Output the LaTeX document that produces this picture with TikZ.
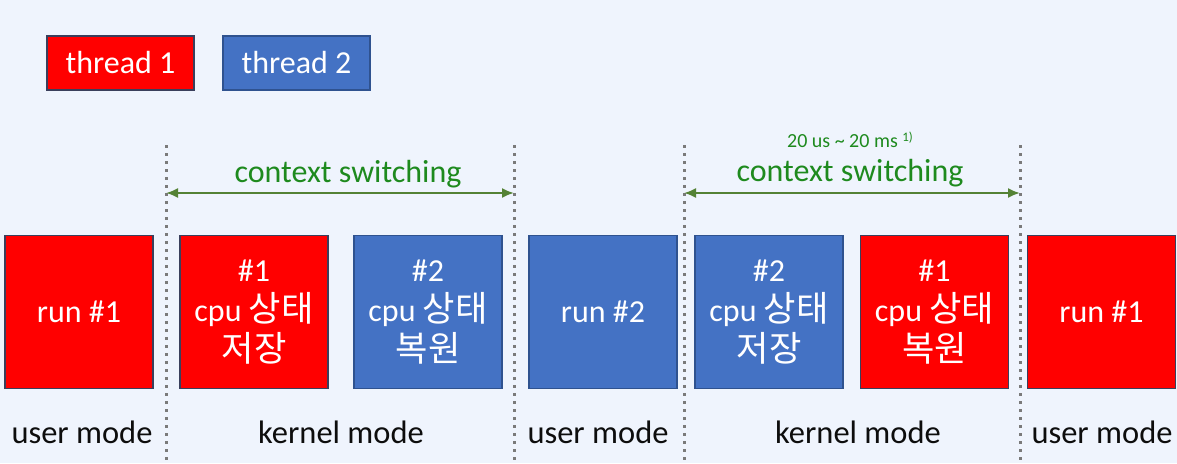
\documentclass[tikz,border=0pt]{standalone}
\usepackage{fontspec}
\setmainfont{Carlito}
\newfontfamily\kr[Scale=1.1]{Noto Sans CJK KR}
\usetikzlibrary{arrows.meta}
\definecolor{bg}{HTML}{EFF4FD}
\definecolor{tred}{HTML}{FF0000}
\definecolor{tblue}{HTML}{4472C4}
\definecolor{redline}{HTML}{3A3F5C}
\definecolor{blueline}{HTML}{2F528F}
\definecolor{csgreen}{HTML}{1E8A1E}
\definecolor{arrgreen}{HTML}{548235}
\definecolor{dotgray}{HTML}{7A7A7A}
\tikzset{
  redbox/.style={draw=redline, line width=1.2pt, fill=tred, text=white, minimum width=148pt, minimum height=153pt, inner sep=0pt, align=center, font=\fontsize{32}{40}\selectfont},
  bluebox/.style={redbox, draw=blueline, fill=tblue},
  legred/.style={draw=redline, line width=1.2pt, fill=tred, text=white, minimum width=147pt, minimum height=54pt, inner sep=0pt, font=\fontsize{32}{36}\selectfont},
  legblue/.style={legred, draw=blueline, fill=tblue},
  modelabel/.style={text=black!95, font=\fontsize{32.5}{38}\selectfont, inner sep=0pt},
  cslabel/.style={text=csgreen, font=\fontsize{32}{38}\selectfont, inner sep=0pt},
  divider/.style={draw=dotgray, line width=3pt, dash pattern=on 3pt off 5pt},
  csarrow/.style={draw=arrgreen, line width=2pt, {Latex[length=12pt,width=10pt]}-{Latex[length=12pt,width=10pt]}}
}
\begin{document}
\begin{tikzpicture}[x=1pt,y=-1pt]
\fill[bg] (0,0) rectangle (1177,463);
\useasboundingbox (0,0) rectangle (1177,463);
% legend
\node[legred] (l1) at (120.5,63) {thread 1};
\node[legblue] (l2) at (296.5,63) {thread 2};
% dividers
\foreach \n/\x in {d1/166,d2/514,d3/684,d4/1020}{
  \coordinate (\n t) at (\x,145);
  \coordinate (\n b) at (\x,463);
  \coordinate (\n a) at (\x,193);
}
\foreach \n in {d1,d2,d3,d4}{\draw[divider] (\n t) -- (\n b);}
% arrows
\draw[csarrow] (d1a) -- (d2a);
\draw[csarrow] (d3a) -- (d4a);
\node[cslabel] (cs1) at (348,174) {context switching};
\node[cslabel] (cs2) at (850,173) {context switching};
\node[text=csgreen, font=\fontsize{20}{22}\selectfont, inner sep=0pt] (t) at (850,140) {20 us \textasciitilde{} 20 ms \raisebox{6pt}{\fontsize{13}{13}\selectfont 1)}};
% boxes
\node[redbox] (b1) at (79,312) {run \#1};
\node[redbox] (b2) at (254,312) {\#1\\cpu {\kr 상태}\\{\kr 저장}};
\node[bluebox] (b3) at (428,312) {\#2\\cpu {\kr 상태}\\{\kr 복원}};
\node[bluebox] (b4) at (603,312) {run \#2};
\node[bluebox] (b5) at (769,312) {\#2\\cpu {\kr 상태}\\{\kr 저장}};
\node[redbox] (b6) at (934.5,312) {\#1\\cpu {\kr 상태}\\{\kr 복원}};
\node[redbox] (b7) at (1101.5,312) {run \#1};
% mode labels
\node[modelabel] (m1) at (82,432) {user mode};
\node[modelabel] (m2) at (341,432) {kernel mode};
\node[modelabel] (m3) at (598,432) {user mode};
\node[modelabel] (m4) at (858,432) {kernel mode};
\node[modelabel] (m5) at (1102,432) {user mode};
\end{tikzpicture}
\end{document}
